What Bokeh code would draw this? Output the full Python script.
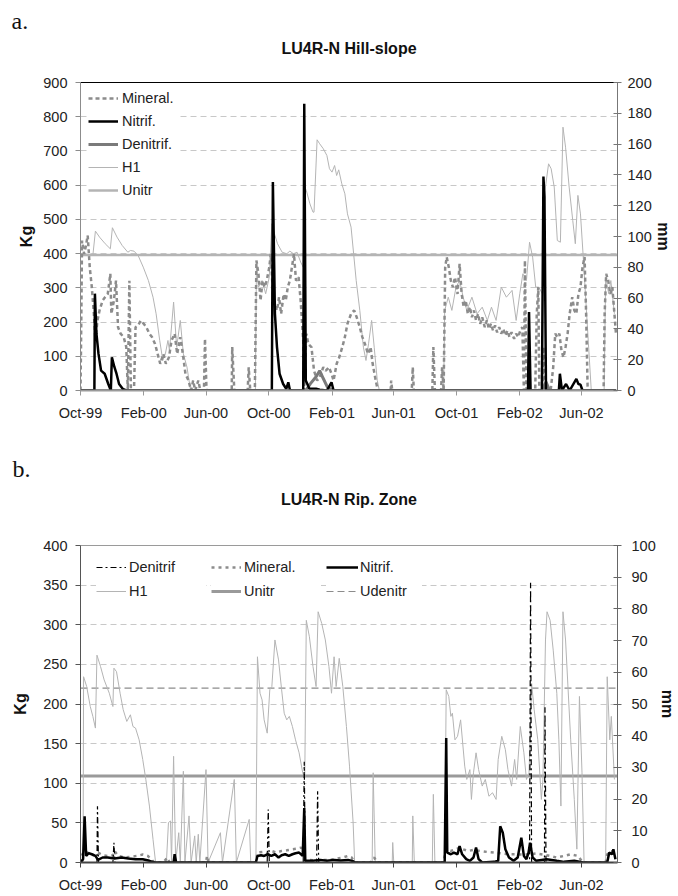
import pandas as pd
from bokeh.plotting import figure
from bokeh.models import (Range1d, LinearAxis, FixedTicker, DatetimeTickFormatter,
                          Legend, LegendItem, Title)
from bokeh.layouts import column
from bokeh.embed import file_html
from bokeh.resources import INLINE

# ---------------------------------------------------------------- data
START = pd.Timestamp("1999-10-01")
END = pd.Timestamp("2002-08-10")
tick_dates = ["1999-10-01", "2000-02-01", "2000-06-01", "2000-10-01", "2001-02-01",
              "2001-06-01", "2001-10-01", "2002-02-01", "2002-06-01"]

# ---- panel a: LU4R-N Hill-slope (days since START)
h1_a_day = [24, 29, 37, 48, 58, 62, 71, 81, 92, 97, 104, 112, 122, 132, 141, 147, 154, 160, 165, 170, 173, 181, 187, 194, 200, 207, 214,
            340, 342, 346, 353, 360, 367, 372, 377, 383, 392, 401, 407, 414, 421, 428, 433, 436, 439, 446, 452, 454, 460, 465, 472, 479, 484,
            489, 494, 498, 502, 508, 514, 519, 526, 531, 536, 543, 550, 555, 560, 566, 571, 577, 581,
            706, 708, 715, 722, 730, 737, 744, 751, 761, 771, 781, 791, 799, 808, 818, 828, 839, 847, 854, 860, 867, 873, 879, 885, 891, 898,
            903, 910, 915, 921, 927, 933, 938, 943, 950, 957, 962, 967, 972, 977, 984, 993,
            1018, 1021, 1027, 1031, 1038]
h1_a_mm = [87.7, 103.5, 99.6, 95.3, 92.0, 105.7, 99.6, 94.2, 89.8, 90.9, 90.5, 87.7, 80.1, 71.4, 60.6, 49.8, 32.5, 19.5, 23.8, 32.5, 26.0, 57.4, 28.1, 45.5, 23.8, 15.2, 0,
           0, 80.1, 67.1, 71.4, 62.8, 73.6, 108.3, 101.8, 95.3, 89.8, 88.8, 90.5, 88.8, 89.8, 83.4, 80.1, 132.1, 129.9, 121.2, 115.8, 115.8, 162.8, 160.2, 157.0, 152.6, 144.0,
           141.8, 146.1, 139.6, 143.3, 134.2, 127.7, 114.7, 106.1, 88.8, 71.4, 52.0, 28.1, 19.5, 30.3, 45.5, 28.1, 6.5, 0,
           0, 52.0, 60.6, 52.0, 67.1, 71.4, 60.6, 52.0, 60.6, 49.8, 54.1, 45.5, 54.1, 45.5, 67.1, 60.6, 65.0, 45.5, 62.8, 75.8, 71.4, 96.3, 86.6, 67.1, 67.1, 62.8,
           129.9, 147.2, 144.0, 132.1, 97.4, 96.3, 171.0, 158.0, 132.1, 110.4, 95.3, 126.7, 114.7, 88.8, 49.8, 0,
           0, 73.6, 62.8, 71.4, 49.8]

mineral_a_day = [0, 1, 3, 7, 10, 14, 18, 22, 26, 29, 33, 37, 43, 48, 53, 58, 60, 65, 69, 73,
                 78, 84, 89, 92, 95, 98, 104, 107, 112, 117, 123, 128, 134, 139, 145, 150, 155, 161, 166, 172,
                 177, 183, 188, 194, 199, 204, 210, 215, 219, 223, 229, 233, 240, 242, 245, 294, 295, 299, 325, 327,
                 330, 339, 342, 346, 350, 354, 358, 362, 367, 370, 374, 378, 382, 386, 390, 395, 399, 403, 407, 411,
                 415, 419, 424, 428, 433, 435, 439, 443, 449, 454, 460, 465, 472, 477, 483, 488, 492, 498, 503, 509,
                 514, 519, 526, 532, 537, 543, 548, 553, 559, 564, 568, 574, 578, 603, 604, 606, 644, 646, 648, 684,
                 686, 689, 701, 703, 706, 709, 712, 716, 720, 724, 728, 733, 737, 741, 745, 749, 753, 757, 761, 765,
                 769, 773, 777, 781, 786, 790, 794, 798, 802, 806, 810, 814, 818, 822, 826, 830, 834, 838, 843, 847,
                 851, 855, 859, 862, 864, 867, 884, 887, 890, 892, 898, 900, 903, 914, 919, 923, 927, 931, 935, 939,
                 943, 947, 951, 956, 960, 964, 968, 972, 976, 980, 983, 986, 1017, 1019, 1022, 1026, 1030, 1034, 1038, 1041]
mineral_a_kg = [0, 127, 438, 399, 419, 453, 360, 302, 224, 146, 205, 234, 263, 273, 282, 341, 224, 263, 321, 185,
                166, 156, 127, 0, 321, 0, 0, 185, 190, 204, 195, 185, 166, 156, 136, 107, 78, 107, 78, 97,
                146, 166, 107, 156, 107, 49, 29, 0, 29, 0, 29, 0, 0, 151, 0, 0, 127, 0, 0, 68,
                0, 0, 380, 341, 263, 321, 302, 321, 360, 399, 282, 253, 234, 273, 224, 282, 263, 302, 321, 360,
                399, 321, 331, 263, 146, 0, 166, 136, 127, 58, 29, 39, 68, 58, 68, 49, 29, 78, 97, 127,
                156, 195, 224, 234, 214, 185, 156, 136, 107, 127, 78, 29, 0, 0, 29, 0, 0, 68, 0, 0,
                127, 0, 0, 68, 0, 360, 390, 360, 321, 302, 331, 282, 370, 282, 244, 263, 224, 244, 214, 234,
                205, 224, 195, 214, 185, 205, 180, 195, 175, 190, 170, 185, 166, 180, 161, 175, 156, 170, 151, 166,
                156, 175, 185, 0, 380, 0, 0, 224, 302, 0, 0, 127, 0, 0, 68, 166, 156, 166, 117, 97,
                127, 166, 224, 273, 234, 224, 282, 302, 360, 390, 224, 0, 0, 224, 341, 321, 282, 302, 224, 166]

nitrif_a_day = [0, 27, 28, 31, 35, 40, 47, 54, 59, 61, 66, 70, 75, 82, 89, 372, 374, 378, 382, 387,
                394, 400, 404, 407, 411, 433, 435, 438, 445, 458, 465, 479, 488, 492, 870, 872, 875, 897, 900, 902,
                905, 930, 932, 936, 944, 951, 964, 968, 972, 976, 1041]
nitrif_a_kg = [0, 0, 283, 166, 107, 58, 49, 19, 0, 97, 68, 49, 19, 5, 0, 0, 609, 224, 127, 49,
               19, 5, 24, 2, 0, 0, 838, 29, 5, 5, 2, 0, 24, 0, 0, 229, 0, 0, 625, 565,
               0, 0, 49, 0, 19, 0, 34, 19, 17, 0, 0]

denitrif_a_day = [0, 438, 447, 458, 465, 472, 480, 490, 900, 905, 912, 1041]
denitrif_a_kg = [0, 0, 20, 40, 58, 35, 10, 0, 0, 25, 0, 0]

unitr_a_mm = 88.0

# ---- panel b: LU4R-N Rip. Zone
h1_b_day = [5, 6, 12, 19, 24, 29, 32, 39, 46, 56, 63, 65, 70, 77, 83, 90, 97, 102, 107, 114, 121, 127, 134, 141, 146,
            167, 171, 175, 177, 181, 185, 191, 194, 200, 203, 211, 215, 222, 225, 229, 232, 244, 248, 272, 276, 299, 303, 328, 331,
            341, 344, 349, 353, 357, 363, 368, 372, 378, 385, 391, 396, 401, 406, 412, 418, 425, 432, 436, 439, 445, 452, 458, 462,
            469, 476, 483, 488, 493, 497, 503, 510, 517, 523, 530, 533, 567, 569, 573, 606, 607, 609, 645, 646, 649, 684, 686, 689,
            708, 711, 716, 720, 723, 728, 733, 739, 743, 747, 751, 757, 760, 764, 769, 774, 781, 787, 794, 801, 808, 812, 819, 826,
            831, 838, 844, 848, 855, 862, 867, 872, 877, 882, 889, 896, 899, 904, 907, 913, 919, 926, 930, 934, 938, 943, 948, 953,
            960, 965, 970, 975, 979, 1021, 1024, 1029, 1032, 1038]
h1_b_mm = [0, 58.6, 55.5, 49.2, 46.1, 42.4, 65.4, 61.8, 57.6, 53.4, 49.2, 61.3, 60.2, 53.4, 48.2, 44.5, 46.6, 42.9, 42.4, 38.7, 32.5, 26.2, 17.8, 7.3, 0,
           0, 12.6, 13.1, 0, 33.5, 0, 9.4, 0, 28.8, 0, 14.7, 0, 8.4, 0, 8.9, 0, 29.3, 0, 9.4, 0, 26.2, 0, 13.6, 0,
           0, 64.9, 53.4, 51.3, 45.0, 40.8, 54.5, 55.5, 70.2, 63.9, 54.5, 47.1, 45.0, 46.1, 42.9, 38.7, 34.6, 28.3, 26.7, 76.4, 71.2, 61.8, 55.5, 79.1,
           75.4, 70.2, 61.8, 53.4, 64.9, 55.5, 64.4, 55.5, 42.9, 30.4, 12.6, 0, 0, 28.3, 0, 0, 6.3, 0, 0, 14.7, 0, 0, 21.5, 0,
           0, 54.5, 52.4, 46.1, 47.1, 38.7, 39.8, 45.0, 37.7, 30.4, 26.2, 29.3, 19.9, 28.3, 34.6, 29.3, 24.1, 26.2, 20.9, 22.0, 19.9, 32.5, 39.8, 35.6,
           29.3, 24.1, 32.5, 26.2, 42.9, 34.6, 26.2, 28.3, 56.5, 48.2, 38.7, 19.9, 26.2, 70.2, 79.1, 76.4, 67.0, 53.4, 38.7, 17.8, 79.1, 70.2, 54.5, 38.7,
           19.9, 4.2, 52.4, 28.3, 0, 0, 58.6, 38.7, 46.1, 26.2]

mineral_b_day = [0, 2, 7, 12, 19, 26, 34, 43, 53, 63, 66, 73, 87, 100, 110, 121, 131, 137, 144, 161, 169, 173, 244, 246, 249,
                 341, 344, 354, 364, 371, 381, 391, 401, 412, 422, 429, 433, 436, 445, 459, 473, 486, 500, 510, 520, 527, 533,
                 564, 571, 577, 706, 710, 720, 730, 737, 743, 754, 764, 777, 791, 804, 818, 831, 845, 858, 872, 886, 899, 913,
                 926, 940, 953, 967, 977, 1021, 1024, 1034, 1040]
mineral_b_kg = [0, 8.3, 14.6, 13.3, 10.4, 9.2, 12.5, 9.2, 8.3, 9.2, 14.6, 8.3, 6.3, 7.5, 8.3, 10.0, 8.3, 4.2, 0, 0, 6.3, 0, 0, 8.3, 0,
                0, 12.5, 13.3, 11.7, 14.6, 12.5, 14.6, 15.4, 16.7, 17.5, 18.8, 16.7, 2.1, 3.3, 2.1, 3.3, 3.3, 5.0, 6.3, 8.3, 6.3, 0,
                0, 6.3, 0, 0, 16.7, 14.6, 16.7, 18.8, 16.7, 14.6, 15.8, 14.6, 13.3, 12.5, 11.7, 10.4, 10.4, 10.0, 10.4, 11.3, 10.0, 8.3,
                6.3, 8.3, 10.4, 8.3, 0, 0, 10.4, 14.6, 8.3]

nitrif_b_day = [0, 5, 8, 11, 16, 22, 29, 34, 43, 53, 66, 80, 93, 107, 121, 134, 144, 181, 183, 186,
                341, 344, 351, 357, 364, 371, 378, 385, 391, 398, 405, 412, 418, 425, 432, 435, 437, 452, 466, 479,
                493, 506, 520, 530, 533, 708, 711, 713, 720, 726, 733, 737, 742, 750, 757, 764, 769, 774, 781, 804,
                812, 816, 821, 826, 833, 842, 850, 857, 862, 867, 871, 874, 879, 886, 906, 926, 940, 960, 977, 1024,
                1028, 1033, 1036, 1040]
nitrif_b_kg = [0, 4.2, 58.3, 8.3, 11.7, 10.4, 8.3, 3.3, 6.3, 6.3, 5.0, 6.3, 5.0, 4.2, 4.2, 2.1, 0, 0, 10.4, 0,
               0, 8.3, 9.2, 8.3, 10.4, 8.3, 10.4, 6.3, 9.2, 10.4, 8.3, 10.4, 11.7, 12.5, 8.3, 68.8, 2.1, 2.1, 3.3, 2.1,
               3.3, 2.5, 3.3, 1.7, 0, 0, 157, 12.5, 10.4, 12.5, 10.4, 20.8, 10.4, 4.2, 2.1, 6.3, 18.8, 4.2, 0, 0.8,
               2.1, 45.8, 37.5, 16.7, 6.3, 2.1, 6.3, 31.3, 8.3, 4.2, 12.5, 25.0, 6.3, 2.1, 4.2, 2.1, 0.8, 2.1, 0, 0,
               12.5, 10.4, 16.7, 4.2]

denitrif_b_day = [0, 32, 33, 35, 63, 65, 67, 363, 365, 367, 433, 435, 437, 459, 461, 463, 873, 875, 877, 902, 903, 905, 1040]
denitrif_b_kg = [0, 0, 71, 0, 0, 25, 0, 0, 67, 0, 0, 127, 0, 0, 90, 0, 0, 353, 0, 0, 196, 0, 0]

unitr_b_mm = 27.3
udenitr_b_mm = 55.0

for a, b in [(h1_a_day, h1_a_mm), (mineral_a_day, mineral_a_kg), (nitrif_a_day, nitrif_a_kg),
             (denitrif_a_day, denitrif_a_kg), (h1_b_day, h1_b_mm), (mineral_b_day, mineral_b_kg),
             (nitrif_b_day, nitrif_b_kg), (denitrif_b_day, denitrif_b_kg)]:
    assert len(a) == len(b), (len(a), len(b))

# ---------------------------------------------------------------- helpers
FONT = "Liberation Sans"
SERIF = "Liberation Serif"
TXT = "#222222"
TICK_MS = [pd.Timestamp(d).value / 1e6 for d in tick_dates]
SPAN_DAYS = [0, (END - START).days]


def dates(days):
    return (START + pd.to_timedelta(days, unit="D")).to_numpy()


def style_axis(ax, color, width, tin, tout, standoff):
    ax.axis_line_color = color
    ax.axis_line_width = width
    ax.major_tick_line_color = color
    ax.major_tick_in = tin
    ax.major_tick_out = tout
    ax.minor_tick_line_color = None
    ax.major_label_text_font = FONT
    ax.major_label_text_font_size = "14.5px"
    ax.major_label_text_color = TXT
    ax.major_label_standoff = standoff


def style_label(ax, text, standoff):
    ax.axis_label = text
    ax.axis_label_text_font = FONT
    ax.axis_label_text_font_size = "16px"
    ax.axis_label_text_font_style = "bold"
    ax.axis_label_text_color = "#111111"
    ax.axis_label_standoff = standoff


def make_fig(height, left, right, top, bottom, ymax, ystep, mmmax, mmstep,
             top_color, left_color, bottom_color, right_color,
             kg_standoff, mm_tick_standoff, mm_standoff):
    p = figure(width=678, height=height, x_axis_type="datetime",
               x_range=Range1d(START.to_pydatetime(), END.to_pydatetime()),
               y_range=Range1d(0, ymax), output_backend="svg", toolbar_location=None,
               min_border_left=left, min_border_right=right,
               min_border_top=top, min_border_bottom=bottom)
    p.extra_y_ranges = {"mm": Range1d(0, mmmax)}
    p.outline_line_color = None
    p.xgrid.visible = False
    p.ygrid.ticker = FixedTicker(ticks=list(range(ystep, ymax, ystep)))
    p.ygrid.grid_line_color = "#c8c8c8"
    p.ygrid.grid_line_dash = "6 4"
    xa = p.xaxis[0]
    xa.ticker = FixedTicker(ticks=TICK_MS)
    xa.formatter = DatetimeTickFormatter(days="%b-%y", months="%b-%y", years="%b-%y")
    style_axis(xa, bottom_color, 2, 0, 5, 9)
    ya = p.yaxis[0]
    ya.ticker = FixedTicker(ticks=list(range(0, ymax + 1, ystep)))
    style_axis(ya, left_color, 1, 0, 5, 8)
    style_label(ya, "Kg", kg_standoff)
    ra = LinearAxis(y_range_name="mm", ticker=FixedTicker(ticks=list(range(0, mmmax + 1, mmstep))))
    style_axis(ra, right_color, 1, 4, 4, mm_tick_standoff)
    style_label(ra, "mm", mm_standoff)
    p.add_layout(ra, "right")
    # top frame line
    ta = LinearAxis(ticker=FixedTicker(ticks=[]))
    ta.axis_line_color = top_color
    ta.major_label_text_font_size = "0px"
    ta.major_label_standoff = 0
    ta.major_tick_in = 0
    ta.major_tick_out = 0
    ta.minor_tick_line_color = None
    p.add_layout(ta, "above")
    return p


def add_titles(p, main, letter, gap, main_standoff, letter_standoff, letter_offset):
    # empty spacer keeps the heading clear of the frame
    p.add_layout(Title(text=" ", text_font_size="1px", standoff=gap), "above")
    p.add_layout(Title(text=main, align="center", text_font=FONT, text_font_size="16px",
                       text_font_style="bold", text_color="#111111", standoff=main_standoff), "above")
    p.add_layout(Title(text=letter, align="left", offset=letter_offset, text_font=SERIF,
                       text_font_size="24px", text_font_style="normal", text_color="#111111",
                       standoff=letter_standoff), "above")


# ---------------------------------------------------------------- panel a
pa = make_fig(445, 80, 55, 82, 55, 900, 100, 200, 20,
              "black", "#8c8c8c", "#9a9a9a", "#777777", 5, 6, 0)

r_unitr_a = pa.line(dates(SPAN_DAYS), [unitr_a_mm, unitr_a_mm], y_range_name="mm",
                    line_color="#b4b4b4", line_width=2.5)
r_h1_a = pa.line(dates(h1_a_day), h1_a_mm, y_range_name="mm", line_color="#b4b4b4", line_width=1)
r_min_a = pa.line(dates(mineral_a_day), mineral_a_kg, line_color="#8c8c8c", line_width=2.5, line_dash="4 3")
r_den_a = pa.line(dates(denitrif_a_day), denitrif_a_kg, line_color="#7a7a7a", line_width=3)
r_nit_a = pa.line(dates(nitrif_a_day), nitrif_a_kg, line_color="black", line_width=2.5)

leg_a = Legend(items=[LegendItem(label="Mineral.", renderers=[r_min_a]),
                      LegendItem(label="Nitrif.", renderers=[r_nit_a]),
                      LegendItem(label="Denitrif.", renderers=[r_den_a]),
                      LegendItem(label="H1", renderers=[r_h1_a]),
                      LegendItem(label="Unitr", renderers=[r_unitr_a])],
               location=(8, 190), orientation="vertical", padding=2, margin=0, spacing=3,
               glyph_width=30, glyph_height=20, label_height=20, label_width=57, label_standoff=4,
               label_text_font=FONT, label_text_font_size="14.5px", label_text_color=TXT,
               background_fill_color="white", background_fill_alpha=1.0, border_line_color=None)
pa.add_layout(leg_a)
add_titles(pa, "LU4R-N Hill-slope", "a.", 22, 2, 6, -69)

# ---------------------------------------------------------------- panel b
pb = make_fig(450, 79, 59, 100, 32, 400, 50, 100, 10,
              "#9a9a9a", "#555555", "#444444", "#666666", 11, 10, 0)

r_udn_b = pb.line(dates(SPAN_DAYS), [udenitr_b_mm, udenitr_b_mm], y_range_name="mm",
                  line_color="#8c8c8c", line_width=1.2, line_dash="7 4")
r_unitr_b = pb.line(dates(SPAN_DAYS), [unitr_b_mm, unitr_b_mm], y_range_name="mm",
                    line_color="#9a9a9a", line_width=3)
r_h1_b = pb.line(dates(h1_b_day), h1_b_mm, y_range_name="mm", line_color="#b4b4b4", line_width=1)
r_min_b = pb.line(dates(mineral_b_day), mineral_b_kg, line_color="#8c8c8c", line_width=2.5, line_dash="3 4")
r_den_b = pb.line(dates(denitrif_b_day), denitrif_b_kg, line_color="black", line_width=1.2, line_dash="6 3 2 3")
r_nit_b = pb.line(dates(nitrif_b_day), nitrif_b_kg, line_color="black", line_width=2.5)


def col_legend(items, x, glyph_w, standoff, label_w):
    return Legend(items=items, location=(x, 261), orientation="vertical", padding=5, margin=0, spacing=4,
                  glyph_width=glyph_w, glyph_height=20, label_height=20, label_width=label_w,
                  label_standoff=standoff, label_text_font=FONT, label_text_font_size="14.5px",
                  label_text_color=TXT, background_fill_color="white", background_fill_alpha=1.0,
                  border_line_color=None)


pb.add_layout(col_legend([LegendItem(label="Denitrif", renderers=[r_den_b]),
                          LegendItem(label="H1", renderers=[r_h1_b])], 16, 30, 3, 77))
pb.add_layout(col_legend([LegendItem(label="Mineral.", renderers=[r_min_b]),
                          LegendItem(label="Unitr", renderers=[r_unitr_b])], 131, 30, 3, 77))
pb.add_layout(col_legend([LegendItem(label="Nitrif.", renderers=[r_nit_b]),
                          LegendItem(label="Udenitr", renderers=[r_udn_b])], 246, 32, 2, 62))
add_titles(pb, "LU4R-N Rip. Zone", "b.", 34, 2, 12, -68)

layout = column(pa, pb, spacing=0)
open("out.html", "w").write(file_html(layout, INLINE))
